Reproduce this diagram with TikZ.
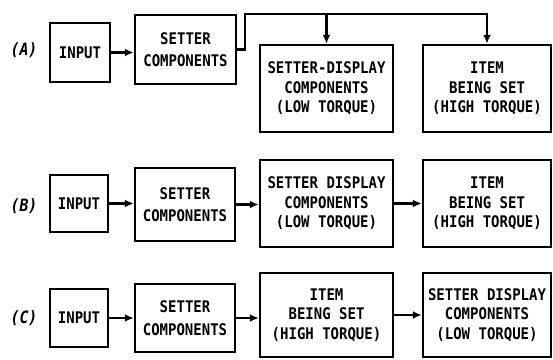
\documentclass[tikz,border=0pt]{standalone}
\usepackage{fontspec}
\newfontfamily\boxfont[FakeStretch=0.875]{DejaVu Sans Mono}
\usetikzlibrary{arrows.meta}
\tikzset{
  blk/.style={draw=black, line width=2.5pt, inner sep=0pt, align=center,
    font=\fontsize{16}{19.5}\boxfont\bfseries},
  arr/.style={line width=2.5pt, -{Latex[length=9pt,width=8pt]}},
  lbl/.style={font=\fontsize{17}{18}\boxfont\bfseries\itshape, inner sep=0pt}
}
\begin{document}
\begin{tikzpicture}[x=1pt,y=-1pt]
\useasboundingbox (0,0) rectangle (553,359);
% row A
\node[lbl] (la) at (24,50) {(A)};
\node[blk, minimum width=60pt, minimum height=59pt] (ia) at (80,52.5) {INPUT};
\node[blk, minimum width=101pt, minimum height=69pt] (sa) at (185.5,49.5) {SETTER\\[3pt]COMPONENTS};
\node[blk, minimum width=133pt, minimum height=87pt] (da) at (326.5,88.5) {SETTER-DISPLAY\\COMPONENTS\\(LOW TORQUE)};
\node[blk, minimum width=128pt, minimum height=87pt] (ta) at (487,88.5) {ITEM\\BEING SET\\(HIGH TORQUE)};
\coordinate (ja) at (245,14);
\draw[arr] (ia.east) -- (ia.east -| sa.west);
\draw[arr] (sa.east) -| (ja) -| (ta.north);
\draw[arr] (ja -| da.north) -- (da.north);
% row B
\node[lbl] (lb) at (24,206) {(B)};
\node[blk, minimum width=58pt, minimum height=57pt] (ib) at (79,203.5) {INPUT};
\node[blk, minimum width=100pt, minimum height=73pt] (sb) at (185,204.5) {SETTER\\[3pt]COMPONENTS};
\node[blk, minimum width=133pt, minimum height=87pt] (db) at (326.5,203.5) {SETTER DISPLAY\\COMPONENTS\\(LOW TORQUE)};
\node[blk, minimum width=128pt, minimum height=87pt] (tb) at (487,203.5) {ITEM\\BEING SET\\(HIGH TORQUE)};
\draw[arr] (ib.east) -- (ib.east -| sb.west);
\draw[arr] (sb.east) -- (sb.east -| db.west);
\draw[arr] (db.east) -- (db.east -| tb.west);
% row C
\node[lbl] (lc) at (24,318) {(C)};
\node[blk, minimum width=58pt, minimum height=58pt] (ic) at (79,318) {INPUT};
\node[blk, minimum width=100pt, minimum height=68pt] (sc) at (185,318) {SETTER\\[3pt]COMPONENTS};
\node[blk, minimum width=133pt, minimum height=84pt] (tc) at (326.5,315) {ITEM\\BEING SET\\(HIGH TORQUE)};
\node[blk, minimum width=128pt, minimum height=84pt] (dc) at (487,315) {SETTER DISPLAY\\COMPONENTS\\(LOW TORQUE)};
\draw[arr] (ic.east) -- (ic.east -| sc.west);
\draw[arr] (sc.east) -- (sc.east -| tc.west);
\draw[arr] (tc.east) -- (tc.east -| dc.west);
\end{tikzpicture}
\end{document}
